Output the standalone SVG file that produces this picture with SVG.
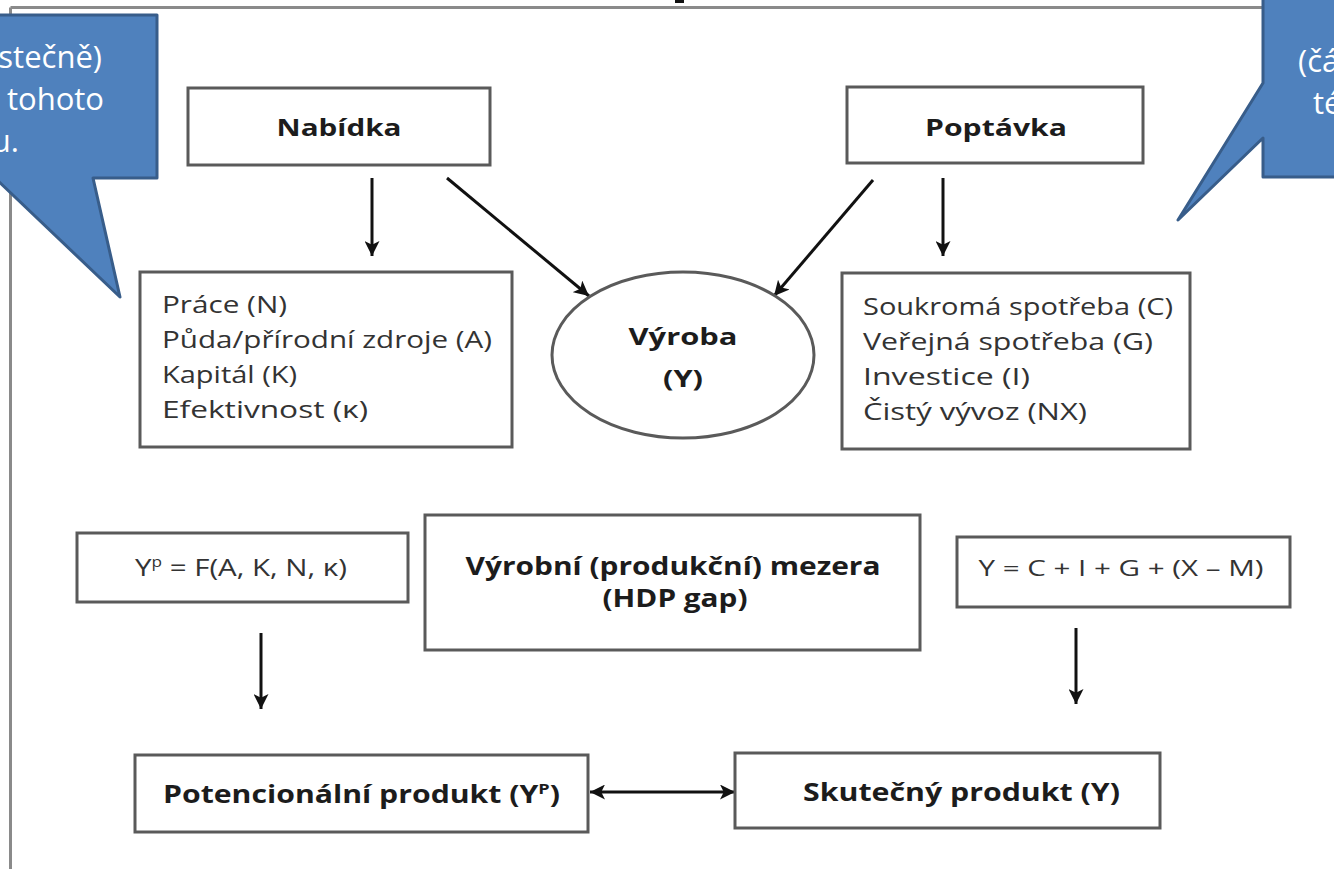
<svg xmlns="http://www.w3.org/2000/svg" width="1334" height="869" viewBox="0 0 1334 869">
<defs>
<style>
.box{fill:#fff;stroke:#5a5a5a;stroke-width:3}
.conn{stroke:#111;stroke-width:3;fill:none}
.b{font-family:"Open Sans","DejaVu Sans",sans-serif;font-weight:700;fill:#1c1c1c}
.r{font-family:"Open Sans","DejaVu Sans",sans-serif;fill:#333}
.call{fill:#4f81bd;stroke:#385d8a;stroke-width:3;stroke-linejoin:round}
.ct{font-family:"Open Sans","DejaVu Sans",sans-serif;fill:#fff;font-size:31px}
</style>
<marker id="ah" viewBox="0 0 12 12" refX="12" refY="6" markerWidth="15" markerHeight="15" markerUnits="userSpaceOnUse" orient="auto-start-reverse">
<path d="M0,0 L12,6 L0,12 L3,6 Z" fill="#111"/>
</marker>
</defs>
<rect width="1334" height="869" fill="#fff"/>
<g id="frame">
<line x1="10.5" y1="7.5" x2="1334" y2="7.5" stroke="#8a8a8a" stroke-width="3"/>
<line x1="10.5" y1="7.5" x2="10.5" y2="869" stroke="#8a8a8a" stroke-width="3"/>
<rect x="675" y="0" width="9" height="3" fill="#111"/>
</g>
<g id="connectors">
<line class="conn" x1="372" y1="178" x2="372" y2="256" marker-end="url(#ah)"/>
<line class="conn" x1="943" y1="178" x2="943" y2="256" marker-end="url(#ah)"/>
<line class="conn" x1="447" y1="178" x2="589" y2="296" marker-end="url(#ah)"/>
<line class="conn" x1="873" y1="180" x2="774" y2="296" marker-end="url(#ah)"/>
<line class="conn" x1="261" y1="633" x2="261" y2="709" marker-end="url(#ah)"/>
<line class="conn" x1="1076" y1="628" x2="1076" y2="704" marker-end="url(#ah)"/>
<line class="conn" x1="590" y1="792" x2="735" y2="792" marker-start="url(#ah)" marker-end="url(#ah)"/>
</g>
<g id="nabidka">
<rect class="box" x="188" y="88" width="302" height="77"/>
<text class="b" x="339" y="136" font-size="23" text-anchor="middle" textLength="125" lengthAdjust="spacingAndGlyphs">Nabídka</text>
</g>
<g id="poptavka">
<rect class="box" x="847" y="87" width="296" height="76"/>
<text class="b" x="996" y="136" font-size="23" text-anchor="middle" textLength="142" lengthAdjust="spacingAndGlyphs">Poptávka</text>
</g>
<g id="faktory">
<rect class="box" x="140" y="272" width="372" height="175"/>
<text class="r" font-size="24" x="162" y="313" textLength="125" lengthAdjust="spacingAndGlyphs">Práce (N)</text>
<text class="r" font-size="24" x="162" y="348" textLength="330" lengthAdjust="spacingAndGlyphs">Půda/přírodní zdroje (A)</text>
<text class="r" font-size="24" x="162" y="383" textLength="135" lengthAdjust="spacingAndGlyphs">Kapitál (K)</text>
<text class="r" font-size="24" x="162" y="418" textLength="206" lengthAdjust="spacingAndGlyphs">Efektivnost (κ)</text>
</g>
<g id="vyroba">
<ellipse cx="683" cy="355" rx="131" ry="83" fill="#fff" stroke="#5a5a5a" stroke-width="3"/>
<text class="b" x="683" y="345" font-size="23" text-anchor="middle" textLength="109" lengthAdjust="spacingAndGlyphs">Výroba</text>
<text class="b" x="683" y="387" font-size="23" text-anchor="middle" textLength="40" lengthAdjust="spacingAndGlyphs">(Y)</text>
</g>
<g id="slozky">
<rect class="box" x="842" y="273" width="348" height="176"/>
<text class="r" font-size="24" x="863" y="315" textLength="310" lengthAdjust="spacingAndGlyphs">Soukromá spotřeba (C)</text>
<text class="r" font-size="24" x="863" y="350" textLength="290" lengthAdjust="spacingAndGlyphs">Veřejná spotřeba (G)</text>
<text class="r" font-size="24" x="863" y="385" textLength="167" lengthAdjust="spacingAndGlyphs">Investice (I)</text>
<text class="r" font-size="24" x="863" y="420" textLength="224" lengthAdjust="spacingAndGlyphs">Čistý vývoz (NX)</text>
</g>
<g id="funkce">
<rect class="box" x="77" y="533" width="331" height="69"/>
<text class="r" font-size="24" x="135" y="576" textLength="212" lengthAdjust="spacingAndGlyphs">Y<tspan font-size="14" dy="-9">p</tspan><tspan dy="9"> = F(A, K, N, κ)</tspan></text>
</g>
<g id="mezera">
<rect class="box" x="425" y="515" width="495" height="135"/>
<text class="b" x="673" y="575" font-size="25" text-anchor="middle" textLength="415" lengthAdjust="spacingAndGlyphs">Výrobní (produkční) mezera</text>
<text class="b" x="675" y="607" font-size="25" text-anchor="middle" textLength="145" lengthAdjust="spacingAndGlyphs">(HDP gap)</text>
</g>
<g id="rovnice">
<rect class="box" x="957" y="537" width="333" height="70"/>
<text class="r" font-size="22" x="1121" y="576" text-anchor="middle" textLength="285" lengthAdjust="spacingAndGlyphs">Y = C + I + G + (X – M)</text>
</g>
<g id="potencialni">
<rect class="box" x="135" y="755" width="453" height="77"/>
<text class="b" font-size="25" x="163" y="803" textLength="397" lengthAdjust="spacingAndGlyphs">Potencionální produkt (Y<tspan font-size="15" dy="-9">P</tspan><tspan dy="9">)</tspan></text>
</g>
<g id="skutecny">
<rect class="box" x="735" y="753" width="425" height="75"/>
<text class="b" font-size="25" x="803" y="801" textLength="317" lengthAdjust="spacingAndGlyphs">Skutečný produkt (Y)</text>
</g>
<g id="callout-left">
<path class="call" d="M-10,15 L157,15 L157,178 L93,178 L120,297 L-5,178 Z"/>
<text class="ct" x="102" y="68" text-anchor="end">stečně)</text>
<text class="ct" x="104" y="110" text-anchor="end">tohoto</text>
<text class="ct" x="19" y="152" text-anchor="end">u.</text>
</g>
<g id="callout-right">
<path class="call" d="M1263,-10 L1263,83 L1178,220 L1263,138 L1263,177 L1345,177 L1345,-10 Z"/>
<text class="ct" x="1298" y="72" font-size="25">(čá</text>
<text class="ct" x="1313" y="114" font-size="25">té</text>
</g>
</svg>
